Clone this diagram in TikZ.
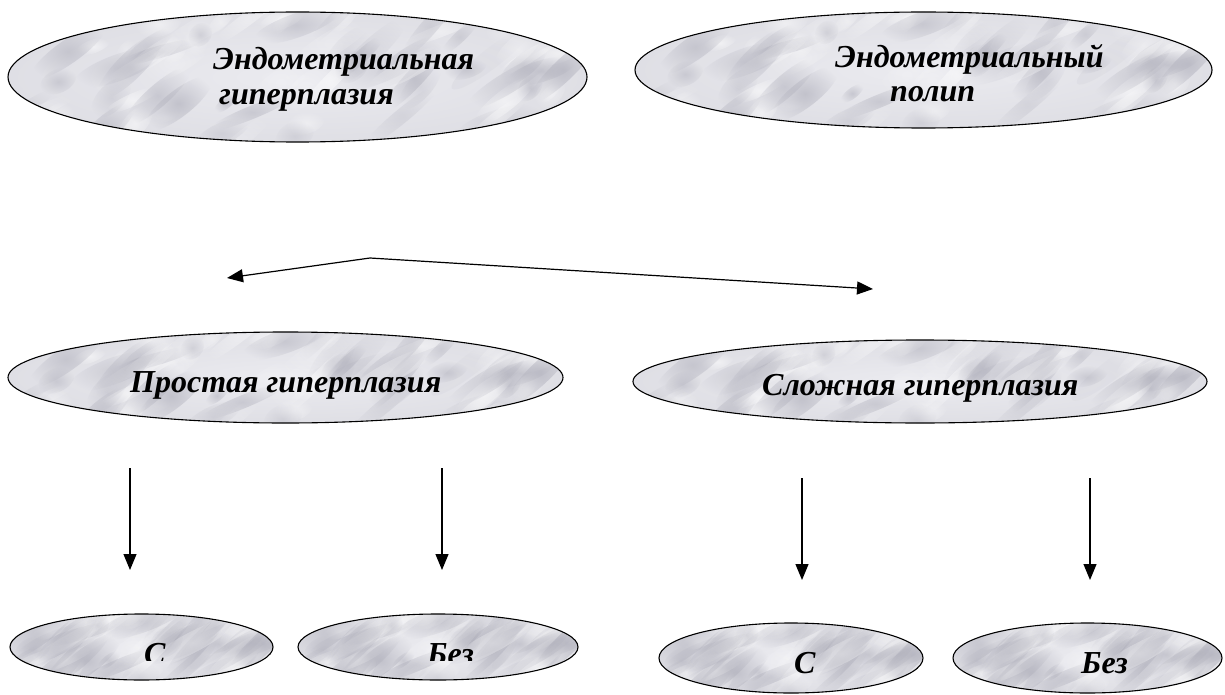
\documentclass[tikz,border=0pt]{standalone}
\usepackage{fontspec}
\setmainfont{Liberation Serif}
\usetikzlibrary{shapes.geometric,arrows.meta,fadings}

\definecolor{marblebase}{RGB}{230,230,236}
\definecolor{marblevein}{RGB}{172,172,184}
\tikzfading[name=softblob, inner color=transparent!0, outer color=transparent!100]

\tikzset{
  % grey marble-filled ellipse: #1 = width, #2 = height (in pt)
  marble/.style 2 args={
    shape=ellipse, draw=black, line width=1.1pt,
    minimum width=#1pt, minimum height=#2pt, inner sep=0pt,
    inner color=marblebase!80!white, outer color=marblebase!97!black,
    path picture={
      \pgfmathsetseed{17}
      \foreach \k in {1,...,80}{
        \pgfmathsetmacro\dx{(rnd-0.5)*#1}
        \pgfmathsetmacro\dy{(rnd-0.5)*#2}
        \pgfmathsetmacro\ang{15+rnd*35}
        \pgfmathsetmacro\len{12+rnd*40}
        \pgfmathsetmacro\wid{5+rnd*9}
        \pgfmathsetmacro\op{0.20+rnd*0.40}
        \pgfmathsetmacro\shade{rnd}
        \ifdim\shade pt<0.5pt
          \fill[marblevein, opacity=\op, path fading=softblob]
            ([shift={(\dx,\dy)}]path picture bounding box.center)
            ellipse[x radius=\len, y radius=\wid, rotate=\ang];
        \else
          \fill[white, opacity=\op, path fading=softblob]
            ([shift={(\dx,\dy)}]path picture bounding box.center)
            ellipse[x radius=\len, y radius=\wid, rotate=\ang];
        \fi
      }
    }},
  label/.style={anchor=base west, inner sep=0pt, font=\fontsize{32}{36}\selectfont\bfseries\itshape},
  link/.style={line width=1.2pt, -{Triangle[length=16pt, width=13pt]}},
}

\begin{document}
\begin{tikzpicture}[x=1pt, y=-1pt]
\useasboundingbox (0,0) rectangle (1225,695);

% ---- top row ----
\node[marble={579}{130}] (endohyp) at (297.5,77) {};
\node[marble={577}{116}] (endopol) at (923.5,70) {};
\node[label] (t1a) at (213,70) {Эндометриальная};
\node[label] (t1b) at (219,105) {гиперплазия};
\node[label] (t2a) at (835,68) {Эндометриальный};
\begin{scope}
  \clip (800,40) rectangle (1100,103);
  \node[label] (t2b) at (890,102) {полип};
\end{scope}

% ---- branching arrow ----
\coordinate (fork) at (370,258);
\coordinate (forkL) at (227,278);
\coordinate (forkR) at (873,289);
\draw[link] (fork) -- (forkL);
\draw[link] (fork) -- (forkR);

% ---- second row ----
\node[marble={555}{91}] (simple) at (285.5,377.5) {};
\node[marble={574}{83}] (complex) at (920,381.5) {};
\node[label] (t3) at (130,392) {Простая гиперплазия};
\node[label] (t4) at (762,395) {Сложная гиперплазия};

% ---- vertical arrows ----
\coordinate (a1s) at (130,468); \coordinate (a1e) at (130,570);
\coordinate (a2s) at (442,468); \coordinate (a2e) at (442,570);
\coordinate (a3s) at (802,478); \coordinate (a3e) at (802,580);
\coordinate (a4s) at (1090,478); \coordinate (a4e) at (1090,580);
\draw[link] (a1s) -- (a1e);
\draw[link] (a2s) -- (a2e);
\draw[link] (a3s) -- (a3e);
\draw[link] (a4s) -- (a4e);

% ---- bottom row ----
\node[marble={263}{66}] (s1) at (141.5,647) {};
\node[marble={280}{66}] (s2) at (438,647) {};
\node[marble={264}{70}] (c1) at (791,658) {};
\node[marble={269}{70}] (c2) at (1087.5,658) {};
\begin{scope}
  \clip (100,630) rectangle (520,660);
  \node[label] (t5) at (144,664) {С};
  \node[label] (t6) at (427,664) {Без};
\end{scope}
\node[label] (t7) at (794,673) {С};
\node[label] (t8) at (1081,673) {Без};
\end{tikzpicture}
\end{document}
